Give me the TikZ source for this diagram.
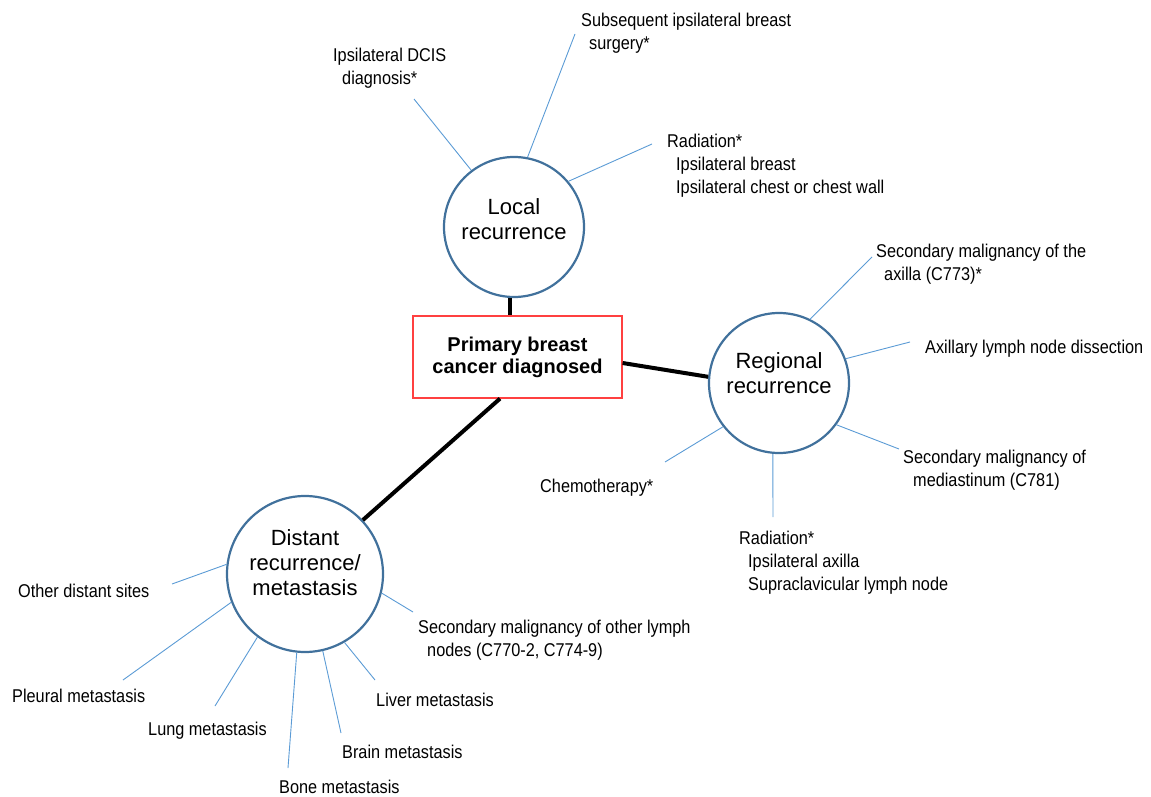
\documentclass[tikz,border=0pt]{standalone}
\usepackage{fontspec}
\setmainfont{Liberation Sans}
\newfontfamily\narrowfont{Liberation Sans}[FakeStretch=0.88]
\definecolor{hubblue}{RGB}{65,113,156}
\definecolor{spokeblue}{RGB}{91,155,213}
\definecolor{boxred}{RGB}{255,64,64}
\newcommand\lbltab[1]{\begin{tabular}[t]{@{}l@{}}#1\end{tabular}}
\newcommand\ind{\hspace*{9pt}}

\begin{document}
\begin{tikzpicture}[x=1pt,y=-1pt,
  hub/.style={circle,draw=hubblue,line width=2.2pt,minimum size=140pt,inner sep=0pt,
    align=center,font=\fontsize{22}{25}\selectfont},
  lbl/.style={anchor=base west,inner sep=0pt,font=\narrowfont\fontsize{18.5}{23}\selectfont},
  spoke/.style={draw=spokeblue,line width=0.9pt},
  trunk/.style={line width=4pt}]
\useasboundingbox (0,0) rectangle (1151,797);

% hubs
\node[draw=boxred,line width=1.2pt,minimum width=209pt,minimum height=82pt,align=center,
  font=\bfseries\fontsize{20}{22}\selectfont] (prim) at (517.5,357) {Primary breast\\cancer diagnosed};
\node[hub,text depth=16pt] (loc) at (514,227) {Local\\recurrence};
\node[hub,text depth=19pt] (reg) at (779,383) {Regional\\recurrence};
\node[hub,minimum size=156pt,text depth=23pt] (dist) at (305,574) {Distant\\recurrence/\\metastasis};

\draw[trunk] (loc.267) -- (loc.267 |- prim.north);
\draw[trunk] ([yshift=-6pt]prim.east) -- (reg.175);
\draw[trunk] ([xshift=-17.5pt]prim.south) -- (dist.43);

% local recurrence
\node[lbl] (dcis) at (333,62) {\lbltab{Ipsilateral DCIS\\\ind diagnosis*}};
\node[lbl] (surg) at (581,27) {\lbltab{Subsequent ipsilateral breast\\\hspace*{8pt}surgery*}};
\node[lbl] (lrad) at (667,147) {\lbltab{Radiation*\\\ind Ipsilateral breast\\\ind Ipsilateral chest or chest wall}};
\coordinate (dcis-e) at (414,99);
\coordinate (surg-e) at (575,34);
\coordinate (lrad-e) at (652,144);
\draw[spoke] (loc.127) -- (dcis-e);
\draw[spoke] (loc.79) -- (surg-e);
\draw[spoke] (loc.40) -- (lrad-e);

% regional recurrence
\node[lbl] (axil) at (876,257) {\lbltab{Secondary malignancy of the\\\hspace*{8pt}axilla (C773)*}};
\node[lbl] (diss) at (925,353) {Axillary lymph node dissection};
\node[lbl] (medi) at (903,463) {\lbltab{Secondary malignancy of\\\hspace*{10pt}mediastinum (C781)}};
\node[lbl] (rrad) at (739,544) {\lbltab{Radiation*\\\ind Ipsilateral axilla\\\ind Supraclavicular lymph node}};
\node[lbl] (chem) at (540,492) {Chemotherapy*};
\coordinate (axil-e) at (872,257);
\coordinate (diss-e) at (910,342);
\coordinate (medi-e) at (899,449);
\coordinate (rrad-e) at (773,517);
\coordinate (chem-e) at (665,462);
\draw[spoke] (reg.64) -- (axil-e);
\draw[spoke] (reg.20) -- (diss-e);
\draw[spoke] (reg.324) -- (medi-e);
\draw[spoke] (reg.265) -- (rrad-e);
\draw[spoke] (reg.218) -- (chem-e);

% distant recurrence
\node[lbl] (othr) at (18,597) {Other distant sites};
\node[lbl] (pleu) at (12,702) {Pleural metastasis};
\node[lbl] (lung) at (148,735) {Lung metastasis};
\node[lbl] (bone) at (279,793) {Bone metastasis};
\node[lbl] (brai) at (342,758) {Brain metastasis};
\node[lbl] (livr) at (376,706) {Liver metastasis};
\node[lbl] (lymp) at (418,633) {\lbltab{Secondary malignancy of other lymph\\\ind nodes (C770-2, C774-9)}};
\coordinate (othr-e) at (172,584);
\coordinate (pleu-e) at (123,680);
\coordinate (lung-e) at (215,706);
\coordinate (bone-e) at (288,768);
\coordinate (brai-e) at (341,733);
\coordinate (livr-e) at (375,680);
\coordinate (lymp-e) at (413,612);
\draw[spoke] (dist.173) -- (othr-e);
\draw[spoke] (dist.201) -- (pleu-e);
\draw[spoke] (dist.233) -- (lung-e);
\draw[spoke] (dist.264) -- (bone-e);
\draw[spoke] (dist.283) -- (brai-e);
\draw[spoke] (dist.300) -- (livr-e);
\draw[spoke] (dist.346) -- (lymp-e);
\end{tikzpicture}
\end{document}
